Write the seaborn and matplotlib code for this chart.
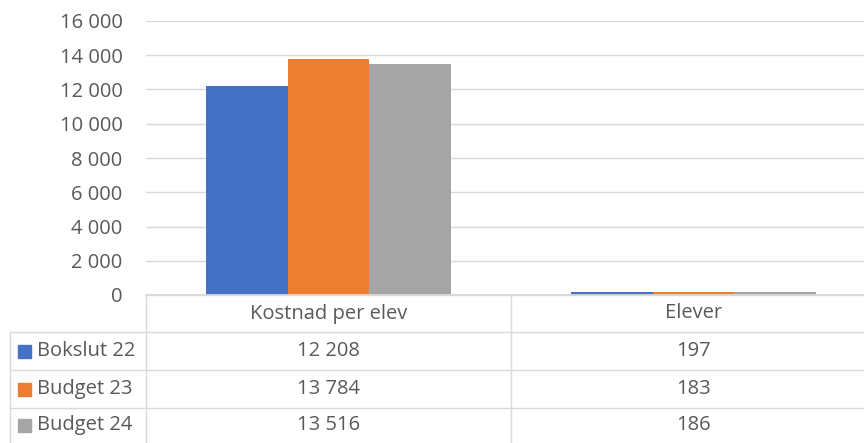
import matplotlib
matplotlib.use("Agg")
import matplotlib.pyplot as plt
import seaborn as sns
import pandas as pd
from matplotlib.lines import Line2D
from matplotlib.patches import Rectangle

categories = ["Kostnad per elev", "Elever"]
series = ["Bokslut 22", "Budget 23", "Budget 24"]
bokslut22 = [12208, 197]
budget23 = [13784, 183]
budget24 = [13516, 186]
colors = ["#4472C4", "#ED7D31", "#A5A5A5"]
yticks = [0, 2000, 4000, 6000, 8000, 10000, 12000, 14000, 16000]

values = [bokslut22, budget23, budget24]
rows = []
for s, vals in zip(series, values):
    for c, v in zip(categories, vals):
        rows.append({"Kategori": c, "Serie": s, "Värde": v})
df = pd.DataFrame(rows)

sns.set_theme(style="white")
plt.rcParams["font.family"] = ["Open Sans", "DejaVu Sans"]
txt = "#595959"
grid = "#D9D9D9"
FS = 14.5

W, H = 864, 443
fig = plt.figure(figsize=(W / 100, H / 100), dpi=100)
x0, x1 = 146, 876
ytop, ybot = 21, 295
ax = fig.add_axes([x0 / W, 1 - ybot / H, (x1 - x0) / W, (ybot - ytop) / H])

sns.barplot(data=df, x="Kategori", y="Värde", hue="Serie", order=categories,
            hue_order=series, palette=colors, width=0.67, saturation=1,
            ax=ax, legend=False, edgecolor="none")
ax.set_ylim(0, 16000)
ax.set_xlim(-0.5, 1.5)
ax.set_yticks(yticks)
ax.set_yticklabels([f"{t:,}".replace(",", " ") for t in yticks], color=txt, fontsize=FS)
ax.set_xticks([])
ax.set_xlabel("")
ax.set_ylabel("")
ax.yaxis.grid(True, color=grid, linewidth=1)
ax.set_axisbelow(True)
for sp in ["top", "right", "left"]:
    ax.spines[sp].set_visible(False)
ax.spines["bottom"].set_color(grid)
ax.tick_params(axis="y", length=0, pad=17)

# data table
def fx(px):
    return px / W

def fy(py):
    return 1 - py / H

col_edges = [146, 511, 876]
row_edges = [295, 332, 370, 408, 446]
lw = 1.0
fig.add_artist(Line2D([fx(146), fx(876)], [fy(295), fy(295)], color=grid, lw=lw))
for r in row_edges[1:4]:
    fig.add_artist(Line2D([fx(10), fx(876)], [fy(r), fy(r)], color=grid, lw=lw))
fig.add_artist(Line2D([fx(146), fx(146)], [fy(295), fy(446)], color=grid, lw=lw))
fig.add_artist(Line2D([fx(511), fx(511)], [fy(295), fy(446)], color=grid, lw=lw))
fig.add_artist(Line2D([fx(10), fx(10)], [fy(332), fy(446)], color=grid, lw=lw))

for i, c in enumerate(categories):
    cx = (col_edges[i] + col_edges[i + 1]) / 2
    fig.text(fx(cx), fy((row_edges[0] + row_edges[1]) / 2), c, ha="center",
             va="center", color=txt, fontsize=FS)
for j, (s, vals) in enumerate(zip(series, values)):
    cy = (row_edges[j + 1] + row_edges[j + 2]) / 2
    if j == 2:
        cy = 425
    fig.add_artist(Rectangle((fx(18), fy(cy + 6.5)), 13 / W, 13 / H,
                             color=colors[j], transform=fig.transFigure))
    fig.text(fx(37), fy(cy), s, ha="left", va="center", color=txt, fontsize=FS)
    for i, v in enumerate(vals):
        cx = (col_edges[i] + col_edges[i + 1]) / 2
        fig.text(fx(cx), fy(cy), f"{v:,}".replace(",", " "), ha="center",
                 va="center", color=txt, fontsize=FS)

fig.savefig("out.png", dpi=100)
